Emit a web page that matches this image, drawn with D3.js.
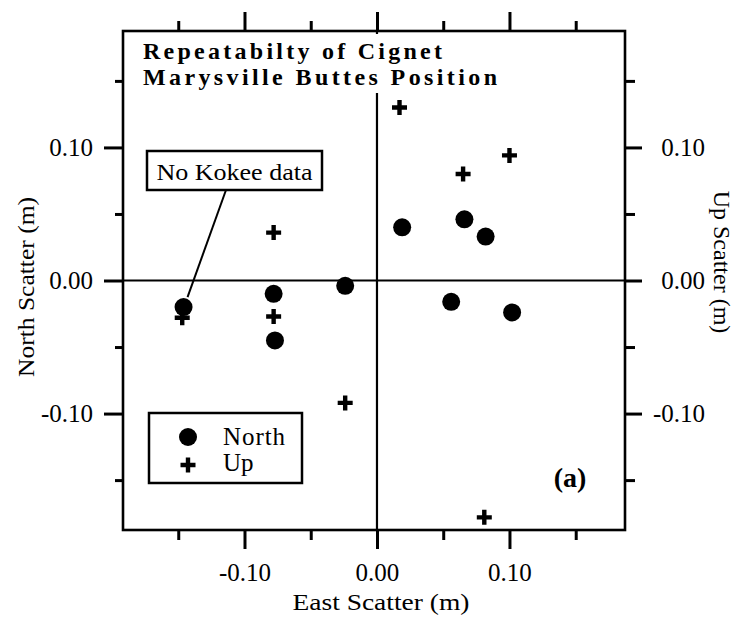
<!DOCTYPE html>
<html>
<head>
<meta charset="utf-8">
<script src="https://cdn.jsdelivr.net/npm/d3@7"></script>
<style>
  body { margin: 0; background: #fff; }
  text { font-family: "Liberation Serif", "Times New Roman", serif; fill: #000; }
</style>
</head>
<body>
<div id="resultDiv"></div>
<script>
// North scatter (circles)
const northEast = [-0.146, -0.078, -0.077, -0.024, 0.019, 0.066, 0.082, 0.056, 0.102];
const northValues = [-0.020, -0.010, -0.045, -0.004, 0.040, 0.046, 0.033, -0.016, -0.024];
// Up scatter (plus signs)
const upEast = [-0.147, -0.078, -0.078, -0.024, 0.017, 0.065, 0.100, 0.081];
const upValues = [-0.028, 0.036, -0.027, -0.092, 0.130, 0.080, 0.094, -0.178];

const majorTicks = [-0.10, 0.00, 0.10];
const minorTicks = [-0.15, -0.05, 0.05, 0.15];
const titleLines = ["Repeatabilty of Cignet", "Marysville Buttes Position"];

const margin = { top: 31, right: 112, bottom: 94, left: 123 };
const width = 737 - margin.left - margin.right;
const height = 624 - margin.top - margin.bottom;

const x = d3.scaleLinear().domain([-0.1917, 0.1872]).range([0, width]);
const y = d3.scaleLinear().domain([-0.1875, 0.1875]).range([height, 0]);
const fmt = (d) => d.toFixed(2);

const svg = d3
  .select("#resultDiv")
  .append("svg")
  .attr("width", 737)
  .attr("height", 624)
  .append("g")
  .attr("transform", "translate(" + margin.left + "," + margin.top + ")");

function styleAxis(g) {
  g.select(".domain").remove();
  g.selectAll("line").attr("stroke", "#000").attr("stroke-width", 3);
  g.selectAll("text").attr("font-size", 25).attr("fill", "#000")
    .style("font-family", '"Liberation Serif", "Times New Roman", serif');
}

// major + minor ticks on all four sides
svg.append("g").attr("transform", "translate(0," + height + ")")
  .call(d3.axisBottom(x).tickValues(majorTicks).tickSize(19).tickPadding(14).tickFormat(fmt))
  .call(styleAxis);
svg.append("g").attr("transform", "translate(0," + height + ")")
  .call(d3.axisBottom(x).tickValues(minorTicks).tickSize(10).tickFormat(""))
  .call(styleAxis);
svg.append("g")
  .call(d3.axisTop(x).tickValues(majorTicks).tickSize(19).tickFormat(""))
  .call(styleAxis);
svg.append("g")
  .call(d3.axisTop(x).tickValues(minorTicks).tickSize(10).tickFormat(""))
  .call(styleAxis);
svg.append("g")
  .call(d3.axisLeft(y).tickValues(majorTicks).tickSize(19).tickPadding(11).tickFormat(fmt))
  .call(styleAxis);
svg.append("g")
  .call(d3.axisLeft(y).tickValues(minorTicks).tickSize(8).tickFormat(""))
  .call(styleAxis);
svg.append("g").attr("transform", "translate(" + width + ",0)")
  .call(d3.axisRight(y).tickValues(majorTicks).tickSize(17).tickFormat(fmt))
  .call(styleAxis)
  .selectAll("text").attr("x", 80).attr("text-anchor", "end");
svg.append("g").attr("transform", "translate(" + width + ",0)")
  .call(d3.axisRight(y).tickValues(minorTicks).tickSize(10).tickFormat(""))
  .call(styleAxis);

// zero lines
svg.append("line")
  .attr("x1", 0).attr("x2", width).attr("y1", y(0)).attr("y2", y(0))
  .attr("stroke", "#000").attr("stroke-width", 2.2);
svg.append("line")
  .attr("x1", x(0)).attr("x2", x(0)).attr("y1", 0).attr("y2", height)
  .attr("stroke", "#000").attr("stroke-width", 2.2);

// title, on white so the zero line stops under it
svg.append("rect")
  .attr("x", 14).attr("y", 3).attr("width", 370).attr("height", 59)
  .attr("fill", "#fff");
svg.append("g")
  .selectAll("text")
  .data(titleLines)
  .join("text")
  .attr("x", 20)
  .attr("y", (d, i) => 28 + i * 26)
  .attr("font-size", 24)
  .attr("font-weight", "bold")
  .attr("textLength", (d, i) => (i === 0 ? 299 : 354))
  .attr("lengthAdjust", "spacing")
  .text((d) => d);

// frame
svg.append("rect")
  .attr("width", width).attr("height", height)
  .attr("fill", "none").attr("stroke", "#000").attr("stroke-width", 2.6);

// North points
svg.append("g")
  .selectAll("circle")
  .data(northEast)
  .join("circle")
  .attr("cx", (d) => x(d))
  .attr("cy", (d, i) => y(northValues[i]))
  .attr("r", 9)
  .attr("fill", "#000");

// Up points
const plus = "M-2.2,-7.5h4.4v5.3h5.3v4.4h-5.3v5.3h-4.4v-5.3h-5.3v-4.4h5.3z";
svg.append("g")
  .selectAll("path")
  .data(upEast)
  .join("path")
  .attr("transform", (d, i) => "translate(" + x(d) + "," + y(upValues[i]) + ")")
  .attr("d", plus)
  .attr("fill", "#000");

// "No Kokee data" callout
const note = svg.append("g").attr("transform", "translate(24,120)");
note.append("rect")
  .attr("width", 175).attr("height", 39)
  .attr("fill", "#fff").attr("stroke", "#000").attr("stroke-width", 2.5);
note.append("text")
  .attr("x", 87.5).attr("y", 29)
  .attr("text-anchor", "middle")
  .attr("font-size", 24)
  .attr("textLength", 156)
  .attr("lengthAdjust", "spacingAndGlyphs")
  .text("No Kokee data");
svg.append("line")
  .attr("x1", 103).attr("y1", 159)
  .attr("x2", x(northEast[0]) + 4).attr("y2", y(northValues[0]) - 10)
  .attr("stroke", "#000").attr("stroke-width", 2);

// legend
const legend = svg.append("g").attr("transform", "translate(26,382)");
legend.append("rect")
  .attr("width", 153).attr("height", 70)
  .attr("fill", "#fff").attr("stroke", "#000").attr("stroke-width", 2.5);
legend.append("circle").attr("cx", 39).attr("cy", 24).attr("r", 9).attr("fill", "#000");
legend.append("path").attr("transform", "translate(39,52)").attr("d", plus).attr("fill", "#000");
legend.append("text").attr("x", 74).attr("y", 32).attr("font-size", 25).attr("textLength", 62).text("North");
legend.append("text").attr("x", 74).attr("y", 58).attr("font-size", 25).text("Up");

// panel label
svg.append("text")
  .attr("x", 447).attr("y", 456)
  .attr("text-anchor", "middle")
  .attr("font-size", 28)
  .attr("font-weight", "bold")
  .text("(a)");

// axis titles
svg.append("text")
  .attr("x", x(0) + 4).attr("y", height + 80)
  .attr("text-anchor", "middle")
  .attr("font-size", 24)
  .attr("textLength", 177)
  .attr("lengthAdjust", "spacingAndGlyphs")
  .text("East Scatter (m)");
svg.append("text")
  .attr("transform", "translate(" + (34 - margin.left) + "," + (287 - margin.top) + ") rotate(-90)")
  .attr("text-anchor", "middle")
  .attr("font-size", 24)
  .attr("textLength", 180)
  .attr("lengthAdjust", "spacingAndGlyphs")
  .text("North Scatter (m)");
svg.append("text")
  .attr("transform", "translate(" + (714 - margin.left) + "," + (262 - margin.top) + ") rotate(90)")
  .attr("text-anchor", "middle")
  .attr("font-size", 24)
  .text("Up Scatter (m)");
</script>
</body>
</html>
